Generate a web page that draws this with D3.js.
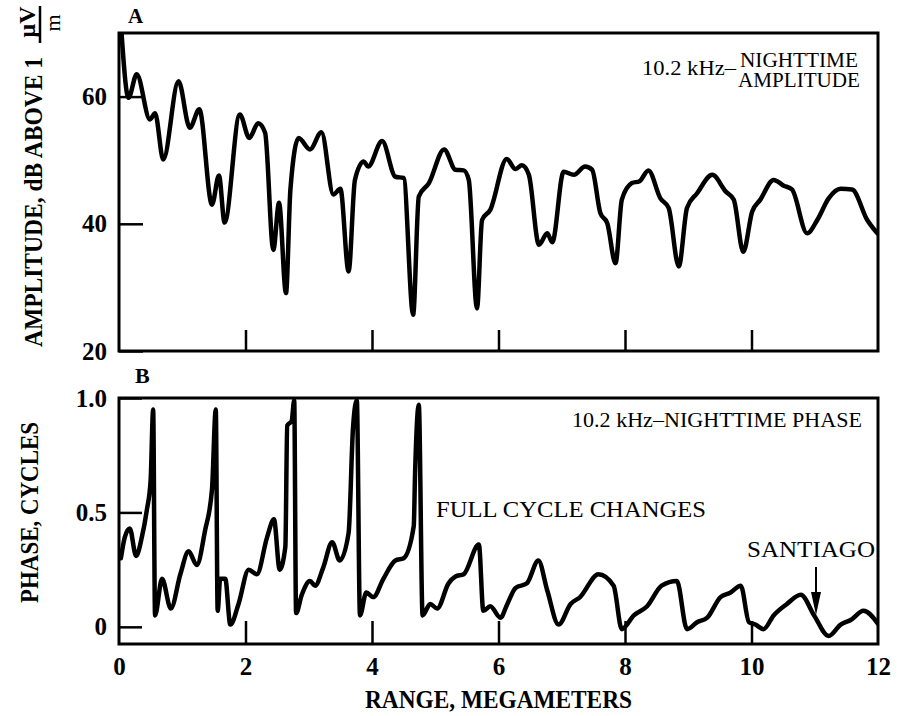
<!DOCTYPE html>
<html>
<head>
<meta charset="utf-8">
<script src="https://cdn.jsdelivr.net/npm/d3@7"></script>
<style>
  html, body { margin: 0; padding: 0; background: #fff; }
  svg { display: block; }
</style>
</head>
<body>
<svg id="chart" width="899" height="716"></svg>
<script>
// ---------- DATA ----------
const ampRange = [0.04,0.15,0.28,0.49,0.57,0.70,0.94,1.12,1.27,1.47,1.58,1.67,1.91,2.06,2.20,2.31,2.44,2.53,2.64,2.71,2.84,3.02,3.20,3.39,3.50,3.63,3.73,3.87,3.94,4.16,4.37,4.50,4.65,4.74,4.90,5.14,5.32,5.45,5.53,5.66,5.74,5.87,6.13,6.27,6.37,6.48,6.64,6.77,6.85,7.03,7.19,7.37,7.48,7.61,7.72,7.85,7.95,8.11,8.23,8.37,8.56,8.69,8.85,8.98,9.14,9.38,9.59,9.72,9.87,10.01,10.14,10.35,10.51,10.64,10.88,11.04,11.22,11.41,11.59,11.83,11.99];
const ampValue = [70,59.8,63.5,56.4,57.4,50.1,62.4,55.1,58.0,43.0,47.6,40.2,57.2,53.5,55.8,54.3,35.9,43.3,29.1,45.4,53.5,51.7,54.4,44.6,45.5,32.5,46.9,49.8,49.0,53.0,47.4,47.2,25.7,44.3,46.4,51.7,48.5,48.4,46.9,26.7,40.6,42.2,50.2,48.6,49.2,47.7,36.7,38.5,37.1,48.2,47.7,49.0,48.5,41.7,40.1,33.8,43.8,46.4,46.7,48.4,44.0,42.5,33.3,42.5,44.8,47.7,45.1,43.8,35.6,41.9,43.8,46.9,46.0,45.4,38.5,40.6,44.0,45.5,45.4,40.6,38.5];

const phaseRange = [0.03,0.09,0.17,0.27,0.36,0.44,0.50,0.54,0.57,0.68,0.82,0.97,1.10,1.23,1.36,1.47,1.53,1.56,1.60,1.68,1.76,1.89,2.05,2.18,2.34,2.45,2.54,2.63,2.66,2.73,2.77,2.80,2.89,3.02,3.10,3.23,3.37,3.49,3.63,3.70,3.76,3.81,3.91,4.02,4.18,4.37,4.50,4.66,4.68,4.74,4.80,4.92,5.03,5.21,5.32,5.45,5.69,5.76,5.87,6.03,6.14,6.27,6.45,6.63,6.77,6.95,7.14,7.29,7.58,7.82,7.95,8.14,8.35,8.58,8.82,8.98,9.14,9.30,9.51,9.67,9.83,9.96,10.06,10.19,10.35,10.56,10.78,10.99,11.22,11.41,11.57,11.77,12.01];
const phaseValue = [0.30,0.39,0.43,0.31,0.39,0.51,0.64,0.95,0.05,0.21,0.08,0.23,0.33,0.27,0.42,0.60,0.95,0.07,0.21,0.21,0.01,0.10,0.25,0.23,0.39,0.47,0.25,0.35,0.88,0.90,0.99,0.06,0.14,0.20,0.18,0.26,0.37,0.29,0.41,0.87,0.99,0.05,0.15,0.13,0.21,0.29,0.30,0.44,0.66,0.97,0.05,0.10,0.08,0.19,0.22,0.23,0.36,0.07,0.09,0.04,0.10,0.17,0.19,0.29,0.16,0.01,0.10,0.13,0.23,0.18,-0.01,0.05,0.09,0.18,0.20,-0.01,0.02,0.04,0.13,0.15,0.18,0.02,0.01,-0.01,0.05,0.10,0.14,0.05,-0.04,0.01,0.03,0.07,0.01];

const xTicks = [0,2,4,6,8,10,12];
const ampTicks = [20,40,60];
const phaseTicks = [0,0.5,1.0];
const phaseTickLabels = ["0","0.5","1.0"];
const santiagoRange = 11.02;

// ---------- LAYOUT ----------
const FONT = "'Liberation Serif', 'Times New Roman', Times, 'DejaVu Serif', serif";
const svg = d3.select("#chart");
const x = d3.scaleLinear().domain([0,12]).range([119,878]);
const yA = d3.scaleLinear().domain([20,70]).range([351,33]);
const yB = d3.scaleLinear().domain([-0.075,1.0]).range([644,398]);

const defs = svg.append("defs");
defs.append("clipPath").attr("id","clipA").append("rect")
  .attr("x",x(0)).attr("y",yA(70)).attr("width",x(12)-x(0)).attr("height",yA(20)-yA(70));
defs.append("clipPath").attr("id","clipB").append("rect")
  .attr("x",x(0)).attr("y",yB(1.0)).attr("width",x(12)-x(0)).attr("height",yB(-0.075)-yB(1.0));

function styleAxis(g, sw){
  g.attr("font-family",FONT);
  g.select(".domain").remove();
  g.selectAll(".tick line").attr("stroke","#000").attr("stroke-width",sw);
  g.selectAll(".tick text")
    .attr("font-family",FONT).style("font-family",FONT)
    .style("font-size","25px").style("font-weight","bold").attr("fill","#000");
}

// ---- Panel A ----
const gA = svg.append("g");
gA.append("g").attr("transform",`translate(0,${yA(20)})`)
  .call(d3.axisBottom(x).tickValues([2,4,6,8,10]).tickSize(-21).tickFormat(""))
  .call(g=>styleAxis(g,2.5));
gA.append("g").attr("transform",`translate(${x(0)},0)`)
  .call(d3.axisLeft(yA).tickValues(ampTicks).tickSize(-24).tickPadding(12).tickFormat(d3.format("d")))
  .call(g=>styleAxis(g,2.5));

const lineA = d3.line().x(d=>x(d[0])).y(d=>yA(d[1])).curve(d3.curveMonotoneX);
gA.append("path").datum(ampRange.map((r,i)=>[r,ampValue[i]]))
  .attr("clip-path","url(#clipA)")
  .attr("d",lineA).attr("fill","none").attr("stroke","#000")
  .attr("stroke-width",4.5).attr("stroke-linejoin","round").attr("stroke-linecap","round");

gA.append("rect").attr("x",x(0)).attr("y",yA(70)).attr("width",x(12)-x(0)).attr("height",yA(20)-yA(70))
  .attr("fill","none").attr("stroke","#000").attr("stroke-width",3);

// ---- Panel B ----
const gB = svg.append("g");
gB.append("g").attr("transform",`translate(0,${yB(-0.075)})`)
  .call(d3.axisBottom(x).tickValues(xTicks).tickSize(-23).tickPadding(13).tickFormat(d3.format("d")))
  .call(g=>styleAxis(g,2.5))
  .call(g=>g.selectAll(".tick").filter(d=>d===0||d===12).select("line").remove());
gB.append("g").attr("transform",`translate(${x(0)},0)`)
  .call(d3.axisLeft(yB).tickValues(phaseTicks).tickSize(-23).tickPadding(12).tickFormat((d,i)=>phaseTickLabels[i]))
  .call(g=>styleAxis(g,2.5));

const lineB = d3.line().x(d=>x(d[0])).y(d=>yB(d[1])).curve(d3.curveMonotoneX);
gB.append("path").datum(phaseRange.map((r,i)=>[r,phaseValue[i]]))
  .attr("clip-path","url(#clipB)")
  .attr("d",lineB).attr("fill","none").attr("stroke","#000")
  .attr("stroke-width",4.5).attr("stroke-linejoin","round").attr("stroke-linecap","round");

gB.append("rect").attr("x",x(0)).attr("y",yB(1.0)).attr("width",x(12)-x(0)).attr("height",yB(-0.075)-yB(1.0))
  .attr("fill","none").attr("stroke","#000").attr("stroke-width",3);

// ---- Texts ----
function txt(s, px, py, size, opts={}){
  const t = svg.append("text").attr("x",px).attr("y",py).text(s)
    .attr("font-family",FONT).style("font-family",FONT).attr("fill","#000")
    .style("font-size",size+"px").style("font-weight",opts.bold?"bold":"normal");
  if(opts.len){ t.attr("textLength",opts.len).attr("lengthAdjust","spacingAndGlyphs"); }
  if(opts.anchor) t.attr("text-anchor",opts.anchor);
  if(opts.transform) t.attr("transform",opts.transform);
  return t;
}
txt("A",128,23,21,{bold:true});
txt("B",135,383,22,{bold:true});

txt("10.2 kHz–",642,75,20,{len:94});
txt("NIGHTTIME",740,67,20,{len:118});
txt("AMPLITUDE",738,87,20,{len:122});

txt("10.2 kHz–NIGHTTIME PHASE",572,427,20,{len:290});
txt("FULL CYCLE CHANGES",436,517,23,{len:270});
txt("SANTIAGO",747,557,23,{len:128});

// Santiago arrow
const sx = x(santiagoRange);
svg.append("line").attr("x1",sx).attr("x2",sx).attr("y1",567).attr("y2",598)
  .attr("stroke","#000").attr("stroke-width",2);
svg.append("path").attr("d",`M${sx-5},592 L${sx+5},592 L${sx},615 Z`).attr("fill","#000");

// Axis titles
txt("RANGE, MEGAMETERS",365,708,25,{bold:true,len:267});
txt("PHASE, CYCLES",0,0,25,{bold:true,len:181,transform:"translate(38,603) rotate(-90)"});
txt("AMPLITUDE, dB ABOVE 1",0,0,25,{bold:true,len:290,transform:"translate(42,347) rotate(-90)"});
// unit fraction μV / m
txt("μV",0,0,24,{bold:true,anchor:"middle",transform:"translate(35,22) rotate(-90)"});
svg.append("line").attr("x1",40).attr("x2",40).attr("y1",6).attr("y2",43)
  .attr("stroke","#000").attr("stroke-width",2.5);
txt("m",0,0,22,{anchor:"middle",transform:"translate(60,23) rotate(-90)"});
</script>
</body>
</html>
